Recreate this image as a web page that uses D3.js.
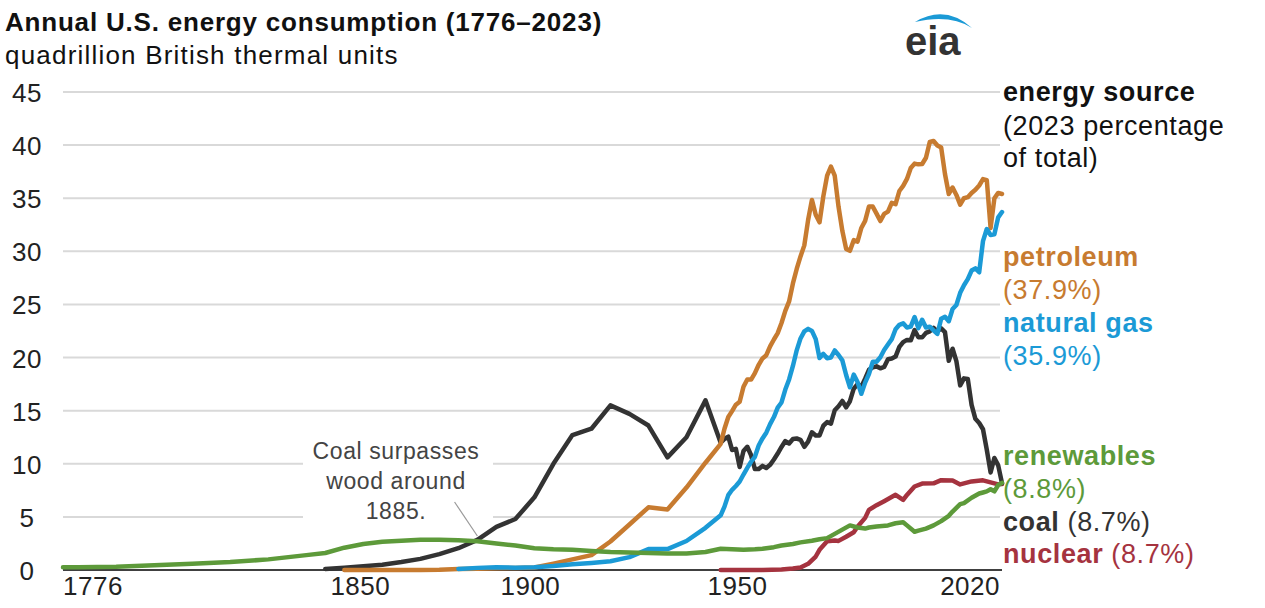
<!DOCTYPE html>
<html lang="en">
<head>
<meta charset="UTF-8">
<title>Annual U.S. energy consumption</title>
<script src="https://d3js.org/d3.v7.min.js"></script>
<style>
  body { margin: 0; background: #fff; }
  text { font-family: Arial, "Liberation Sans", sans-serif; }
</style>
</head>
<body>
<script>
const width = 1265, height = 608

// years before 1949 in 5-year steps, then annual
const earlyYears = [1845,1850,1855,1860,1865,1870,1875,1880,1885,1890,1895,1900,1905,1910,1915,1920,1925,1930,1935,1940,1945]
const annualYears = d3.range(1949, 2024)

const coalEarly = [0.1,0.22,0.35,0.5,0.75,1.05,1.5,2.05,2.84,4.06,4.8,6.84,10.0,12.7,13.3,15.5,14.7,13.6,10.6,12.5,15.97]
const coalAnnual = [11.98,12.35,12.55,11.3,11.4,9.7,11.2,11.6,10.8,9.5,9.5,9.8,9.6,9.9,10.4,10.96,11.58,12.14,11.91,12.33,12.38,12.26,11.6,12.08,12.97,12.66,12.66,13.58,13.92,13.77,15.04,15.42,15.91,15.32,15.89,17.07,17.48,17.26,18.01,18.85,19.07,19.17,18.99,19.12,19.84,19.91,20.09,21.0,21.45,21.66,21.62,22.58,21.91,21.9,22.32,22.47,22.8,22.45,22.75,22.39,19.69,20.83,19.66,17.38,18.04,17.99,15.55,14.23,13.84,13.25,11.32,9.18,10.55,9.85,8.17]

const petroEarly = [null,0,0,0,0,0.01,0.03,0.1,0.12,0.16,0.2,0.23,0.6,1.0,1.4,2.68,4.28,5.9,5.7,7.76,10.1]
const petroAnnual = [11.88,13.3,14.4,14.96,15.56,15.84,17.25,17.94,17.93,18.53,19.32,19.92,20.22,21.05,21.7,22.3,23.25,24.4,25.28,26.98,28.34,29.52,30.56,32.95,34.84,33.45,32.73,35.17,37.12,37.97,37.12,34.2,31.93,30.23,30.05,31.05,30.92,32.2,32.87,34.22,34.21,33.55,32.85,33.53,33.74,34.56,34.44,35.68,36.16,36.82,37.84,38.26,38.19,38.22,38.81,40.29,40.39,39.96,39.77,37.28,35.4,36.01,35.31,34.4,35.0,35.1,35.5,35.8,36.2,36.8,36.7,32.2,35.0,35.5,35.4]

const gasEarly = [null,null,null,null,null,null,null,0.1,0.2,0.26,0.22,0.25,0.37,0.54,0.67,0.83,1.21,1.97,1.97,2.73,3.97]
const gasAnnual = [5.15,5.97,7.05,7.55,7.91,8.33,8.99,9.61,10.19,10.66,11.72,12.39,12.93,13.73,14.4,15.29,15.77,16.99,17.94,19.21,20.68,21.8,22.47,22.7,22.51,21.73,19.95,20.35,19.93,20.0,20.67,20.24,19.74,18.36,17.2,18.39,17.7,16.59,17.64,18.45,19.6,19.6,20.03,20.71,21.23,21.73,22.67,23.08,23.22,22.83,22.91,23.82,22.77,23.56,22.83,22.91,22.56,22.22,23.66,23.84,23.42,24.57,24.95,26.09,26.81,27.38,28.19,28.4,28.03,30.96,32.1,31.54,31.6,33.2,33.7]

const woodYears = [1776,1780,1790,1800,1810,1820,1830,1840,1845,1850,1855,1860,1865,1870,1875,1880,1885,1890,1895,1900,1905,1910,1915,1920,1925,1930,1935,1940,1945]
const woodValues = [0.25,0.26,0.3,0.45,0.58,0.75,1.0,1.4,1.6,2.1,2.45,2.65,2.75,2.85,2.85,2.8,2.7,2.5,2.3,2.05,1.95,1.9,1.8,1.7,1.65,1.6,1.55,1.55,1.7]
const renewYears = [1949,1952,1955,1958,1960,1963,1965,1968,1970,1973,1975,1977,1979,1981,1983,1985,1987,1988,1990,1993,1995,1997,1998,2000,2001,2003,2005,2007,2009,2010,2012,2013,2015,2017,2018,2019,2020,2021,2022,2023]
const renewValues = [2.0,1.95,1.9,1.95,2.0,2.15,2.3,2.45,2.6,2.75,2.9,3.0,3.4,3.8,4.2,4.0,3.9,4.0,4.1,4.2,4.4,4.5,4.2,3.6,3.7,3.9,4.2,4.6,5.1,5.5,6.2,6.3,6.8,7.2,7.3,7.4,7.6,7.4,8.0,8.2]

const nucYears = [1949,1955,1957,1960,1965,1968,1970,1972,1974,1975,1977,1979,1980,1982,1984,1985,1987,1988,1990,1992,1995,1997,1998,2000,2002,2005,2007,2010,2012,2015,2018,2020,2022,2023]
const nucValues = [0,0,0.01,0.01,0.04,0.14,0.24,0.58,1.27,1.9,2.7,2.78,2.74,3.13,3.55,4.08,4.91,5.66,6.1,6.48,7.08,6.6,7.07,7.86,8.14,8.16,8.46,8.43,8.06,8.34,8.44,8.25,8.06,8.1]

const yTicks = [0,5,10,15,20,25,30,35,40,45]
const xTicks = [1776,1850,1900,1950,2020]
const xTickShift = { 1776: 0, 1850: 16, 1900: -4, 1950: 13, 2020: 0 }

const colors = { coal: "#333333", petroleum: "#c77b30", gas: "#1b9ad6", renew: "#5d9a3a", nuclear: "#a5333f" }

const svg = d3.select("body").append("svg").attr("width", width).attr("height", height)

const x = d3.scaleLinear().domain([1776, 2023]).range([63, 1002])
const y = d3.scaleLinear().domain([0, 45]).range([570, 92])

// gridlines
svg.append("g").selectAll("line").data(yTicks.filter(d => d > 0)).enter().append("line")
    .attr("x1", 63).attr("x2", 1000)
    .attr("y1", d => y(d)).attr("y2", d => y(d))
    .attr("stroke", "#d9d9d9").attr("stroke-width", 2)

svg.append("g").selectAll("text").data(yTicks).enter().append("text")
    .attr("x", 27).attr("y", d => y(d) + 10)
    .attr("text-anchor", "middle").attr("font-size", 26).attr("fill", "#222")
    .attr("letter-spacing", 0.5)
    .text(d => d)

svg.append("g").selectAll("text").data(xTicks).enter().append("text")
    .attr("x", d => d === 1776 ? x(d) : d === 2020 ? x(2023) - 2 : x(d) + xTickShift[d])
    .attr("y", 595)
    .attr("text-anchor", d => d === 1776 ? "start" : d === 2020 ? "end" : "middle")
    .attr("font-size", 26).attr("fill", "#222").attr("letter-spacing", 0.5)
    .text(d => d)

// annotation with white knockout
svg.append("rect").attr("x", 303).attr("y", 432).attr("width", 190).attr("height", 90).attr("fill", "#fff")
const note = svg.append("text").attr("font-size", 23).attr("fill", "#444").attr("text-anchor", "middle")
    .attr("letter-spacing", 0.6)
;["Coal surpasses", "wood around", "1885."].forEach((t, i) => {
    note.append("tspan").attr("x", 396).attr("y", 459 + i * 30).text(t)
})
svg.append("line").attr("x1", x(1879)).attr("y1", 502).attr("x2", x(1885)).attr("y2", y(3.2))
    .attr("stroke", "#999").attr("stroke-width", 1.2)

const line = d3.line().defined(d => d[1] != null).x(d => x(d[0])).y(d => y(d[1]))
function series(years, vals) { return years.map((yr, i) => [yr, vals[i]]) }

const data = [
    { key: "nuclear", pts: series(nucYears, nucValues) },
    { key: "coal", pts: series(earlyYears.concat(annualYears), coalEarly.concat(coalAnnual)) },
    { key: "petroleum", pts: series(earlyYears.concat(annualYears), petroEarly.concat(petroAnnual)) },
    { key: "gas", pts: series(earlyYears.concat(annualYears), gasEarly.concat(gasAnnual)) },
    { key: "renew", pts: series(woodYears.concat(renewYears), woodValues.concat(renewValues)) }
]

// baseline
svg.append("line").attr("x1", 63).attr("x2", 1002).attr("y1", y(0)).attr("y2", y(0))
    .attr("stroke", "#000").attr("stroke-width", 1.5)

svg.append("g").selectAll("path").data(data).enter().append("path")
    .attr("d", d => line(d.pts))
    .attr("fill", "none").attr("stroke", d => colors[d.key])
    .attr("stroke-width", 4.5).attr("stroke-linejoin", "round").attr("stroke-linecap", "round")

// titles
svg.append("text").attr("x", 5).attr("y", 31).attr("font-size", 26).attr("font-weight", "bold").attr("fill", "#111")
    .attr("letter-spacing", 0.8)
    .text("Annual U.S. energy consumption (1776–2023)")
svg.append("text").attr("x", 5).attr("y", 64).attr("font-size", 26).attr("fill", "#111")
    .attr("letter-spacing", 1.2)
    .text("quadrillion British thermal units")

// eia logo
svg.append("text").attr("x", 905).attr("y", 55).attr("font-size", 40).attr("fill", "#333")
    .attr("font-weight", "bold").text("eia")
svg.append("path").attr("d", "M915,22 Q945,4 972,28 Q950,14 915,22 Z").attr("fill", "#1b9ad6")

// right labels
const lab = [
    { t: "energy source", yy: 101, c: "#111", b: true },
    { t: "(2023 percentage", yy: 135, c: "#111" },
    { t: "of total)", yy: 167, c: "#111" },
    { t: "petroleum", yy: 266, c: colors.petroleum, b: true },
    { t: "(37.9%)", yy: 299, c: colors.petroleum },
    { t: "natural gas", yy: 332, c: colors.gas, b: true },
    { t: "(35.9%)", yy: 365, c: colors.gas },
    { t: "renewables", yy: 465, c: colors.renew, b: true },
    { t: "(8.8%)", yy: 498, c: colors.renew }
]
svg.append("g").selectAll("text").data(lab).enter().append("text")
    .attr("x", 1003).attr("y", d => d.yy).attr("font-size", 27).attr("letter-spacing", 0.6)
    .attr("font-weight", d => d.b ? "bold" : "normal").attr("fill", d => d.c)
    .text(d => d.t)

const coalLab = svg.append("text").attr("x", 1003).attr("y", 531).attr("font-size", 27)
    .attr("letter-spacing", 0.6).attr("fill", colors.coal)
coalLab.append("tspan").attr("font-weight", "bold").text("coal")
coalLab.append("tspan").text(" (8.7%)")
const nucLab = svg.append("text").attr("x", 1003).attr("y", 563).attr("font-size", 27)
    .attr("letter-spacing", 0.6).attr("fill", colors.nuclear)
nucLab.append("tspan").attr("font-weight", "bold").text("nuclear")
nucLab.append("tspan").text(" (8.7%)")
</script>
</body>
</html>
